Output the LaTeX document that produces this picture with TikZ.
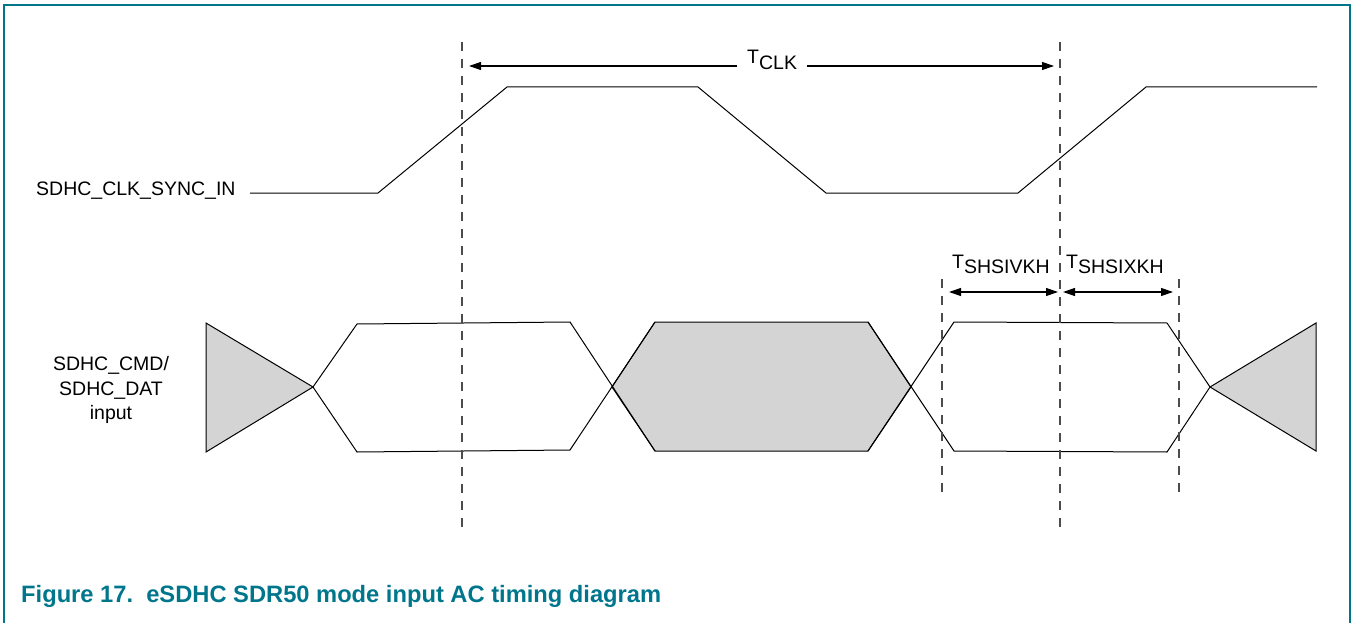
\documentclass[tikz,border=0pt]{standalone}
\usepackage{fontspec}
\setmainfont{Liberation Sans}
\usetikzlibrary{arrows.meta,positioning,calc}
\definecolor{nxpteal}{RGB}{0,118,140}

\begin{document}
\begin{tikzpicture}[x=1pt,y=-1pt,
  wave/.style={line width=1pt,line join=miter},
  eyefill/.style={wave,fill=black!17},
  guide/.style={draw=black!70,line width=1.2pt,dash pattern=on 9pt off 8pt},
  tip/.style={line width=1.1pt,-{Triangle[length=12pt,width=8pt]}},
  lbl/.style={font=\fontsize{19.5}{24.5}\selectfont,inner sep=0pt}]
  \useasboundingbox (0,0) rectangle (1352,623);
  \draw[nxpteal,line width=2.5pt] (4,623) -- (4,5) -- (1350,5) -- (1350,623);
  % signal names
  \node[lbl,anchor=base west] (clkname) at (36,195) {SDHC\_CLK\_SYNC\_IN};
  \node[lbl,align=center] (datname) at (111,390) {SDHC\_CMD/\\SDHC\_DAT\\input};
  % clock
  \coordinate (clk0) at (250,193);
  \draw[wave] (clk0) -- (378,193) -- (507,87) -- (698,87) -- (826,193) -- (1018,193) -- (1146,87) -- (1317,87);
  % data
  \filldraw[eyefill] (206,323) -- (313,387) -- (206,452) -- cycle;
  \filldraw[eyefill] (1316,323) -- (1210,387) -- (1316,451) -- cycle;
  \filldraw[eyefill] (612,387) -- (655,322) -- (868,322) -- (911,387) -- (868,451) -- (655,451) -- cycle;
  \draw[wave] (313,387) -- (357,324) -- (570,322) -- (655,451);
  \draw[wave] (313,387) -- (357,452) -- (570,450) -- (655,322);
  \draw[wave] (868,322) -- (954,451) -- (1167,452) -- (1210,387);
  \draw[wave] (868,451) -- (954,322) -- (1167,323) -- (1210,387);
  % guides
  \coordinate (g1top) at (462,42);  \coordinate (g1bot) at (462,530);
  \coordinate (g2top) at (1060,42); \coordinate (g2bot) at (1060,530);
  \coordinate (g3top) at (942,279); \coordinate (g3bot) at (942,493);
  \coordinate (g4top) at (1179,279); \coordinate (g4bot) at (1179,493);
  \foreach \g in {1,...,4} \draw[guide] (g\g top) -- (g\g bot);
  % timing
  \coordinate (clkL) at (469,66); \coordinate (clkR) at (1054,66);
  \node[lbl,anchor=base west,inner xsep=10pt] (tclk) at (737,64) {T\raisebox{-6pt}{CLK}};
  \draw[tip] (tclk.west |- clkL) -- (clkL);
  \draw[tip] (tclk.east |- clkR) -- (clkR);
  \coordinate (suL) at (949,292); \coordinate (suR) at (1058,292);
  \coordinate (hoL) at (1063,292); \coordinate (hoR) at (1173,292);
  \draw[tip,{Triangle[length=12pt,width=8pt]}-{Triangle[length=12pt,width=8pt]}] (suL) -- (suR);
  \draw[tip,{Triangle[length=12pt,width=8pt]}-{Triangle[length=12pt,width=8pt]}] (hoL) -- (hoR);
  \node[lbl,anchor=base west] (tsu) at (952,268) {T\raisebox{-5pt}{SHSIVKH}};
  \node[lbl,anchor=base west] (tho) at (1066,268) {T\raisebox{-5pt}{SHSIXKH}};
  % caption
  \node[anchor=base west,inner sep=0pt,text=nxpteal,font=\bfseries\fontsize{23.7}{23.7}\selectfont] (cap) at (21,602)
    {Figure 17.\ \ eSDHC SDR50 mode input AC timing diagram};
\end{tikzpicture}
\end{document}
